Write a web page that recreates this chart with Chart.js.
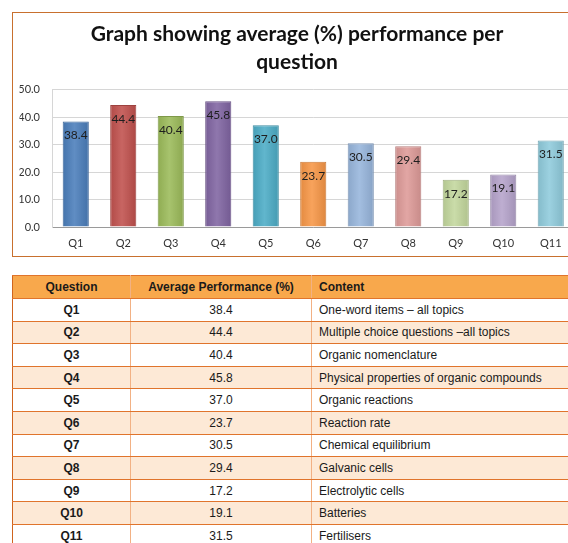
<!DOCTYPE html>
<html><head><meta charset="utf-8">
<script src="https://cdn.jsdelivr.net/npm/chart.js@4.4.1/dist/chart.umd.min.js"></script>
<style>
html,body{margin:0;padding:0;background:#fff;overflow:hidden;width:568px;height:543px;position:relative;}
#frame{position:absolute;left:12px;top:12px;width:590px;height:245px;border:1.5px solid #C8702E;box-sizing:border-box;}
#c{position:absolute;left:13px;top:13px;}
#tbl{position:absolute;left:12px;top:275px;border-collapse:collapse;font-family:"Liberation Sans",Arial,sans-serif;font-size:12px;color:#1a1a1a;table-layout:fixed;width:640px;}
#tbl tr{height:22.6px;}
#tbl thead tr{height:23px;}
#tbl td,#tbl th{padding:0;border-top:1.5px solid #E0742C;border-bottom:1.5px solid #E0742C;border-left:1px solid #F2B184;border-right:1px solid #F2B184;height:18px;white-space:nowrap;overflow:hidden;}
#tbl th{background:#F8A84C;font-weight:bold;}
#tbl tr.alt td{background:#FDE9D6;}
#tbl td.q{font-weight:bold;text-align:center;border-left:1.5px solid #D0641E;}
#tbl th.q{border-left:1.5px solid #D0641E;}
#tbl td.v{text-align:center;}
#tbl td.t,#tbl th.t{text-align:left;padding-left:7px;}
</style></head>
<body>
<div id="frame"></div>
<canvas id="c" width="570" height="242"></canvas>
<table id="tbl"><colgroup><col style="width:118px"><col style="width:181px"><col style="width:341px"></colgroup><thead><tr><th class="q">Question</th><th>Average Performance (%)</th><th class="t">Content</th></tr></thead><tbody id="tb"></tbody></table>
<script>
const questions = ['Q1','Q2','Q3','Q4','Q5','Q6','Q7','Q8','Q9','Q10','Q11'];
const averages = [38.4, 44.4, 40.4, 45.8, 37.0, 23.7, 30.5, 29.4, 17.2, 19.1, 31.5];
const contents = ['One-word items \u2013 all topics','Multiple choice questions \u2013all topics','Organic nomenclature','Physical properties of organic compounds','Organic reactions','Reaction rate','Chemical equilibrium','Galvanic cells','Electrolytic cells','Batteries','Fertilisers'];
const yTickValues = [0, 10, 20, 30, 40, 50];
const barColors = ['#4A7EBB','#C0504D','#9BBB59','#8064A2','#4BACC6','#F79646','#97B5DC','#DE9A98','#C3D79D','#B5A3CB','#8FCBDC'];
const titleLines = ['Graph showing average (%) performance per','question'];

// build table
const tb = document.getElementById('tb');
questions.forEach((q,i)=>{
  const tr=document.createElement('tr'); if(i%2===1) tr.className='alt';
  tr.innerHTML='<td class="q">'+q+'</td><td class="v">'+averages[i].toFixed(1)+'</td><td class="t">'+contents[i]+'</td>';
  tb.appendChild(tr);
});

function shade(hex, amt){
  const n=parseInt(hex.slice(1),16); let r=n>>16,g=(n>>8)&255,b=n&255;
  const f=v=> amt>=0 ? Math.round(v+(255-v)*amt) : Math.round(v*(1+amt));
  return 'rgb('+f(r)+','+f(g)+','+f(b)+')';
}
const BAR_PCT = 0.55;
const barLabels = {
  id:'barLabels',
  afterDatasetsDraw(chart){
    const ctx=chart.ctx; const meta=chart.getDatasetMeta(0);
    ctx.save();
    ctx.font='12px Lato, "DejaVu Sans", sans-serif'; ctx.fillStyle='#1e1e1e';
    ctx.textAlign='center'; ctx.textBaseline='middle';
    meta.data.forEach((bar,i)=>{ ctx.fillText(averages[i].toFixed(1), bar.x, bar.y+14); });
    ctx.restore();
  }
};
new Chart(document.getElementById('c'), {
  type:'bar',
  data:{ labels:questions, datasets:[{
    data:averages,
    barPercentage:BAR_PCT, categoryPercentage:1.0,
    borderWidth:1,
    borderColor:barColors.map(c=>shade(c,-0.18)),
    backgroundColor(c){
      const chart=c.chart, xs=chart.scales.x, base=barColors[c.dataIndex];
      if(!xs) return base;
      const cx=xs.getPixelForValue(c.dataIndex); const w=xs.width/questions.length*BAR_PCT;
      if(!isFinite(cx)||!isFinite(w)||w<=0) return base;
      const g=chart.ctx.createLinearGradient(cx-w/2,0,cx+w/2,0);
      g.addColorStop(0,shade(base,-0.08)); g.addColorStop(0.45,shade(base,0.12)); g.addColorStop(1,shade(base,-0.1));
      return g;
    }
  }]},
  options:{
    responsive:false, animation:false, devicePixelRatio:1,
    layout:{padding:{left:6.5,right:8.5,top:0,bottom:4}},
    plugins:{
      legend:{display:false}, tooltip:{enabled:false},
      title:{display:true, text:titleLines, color:'#111',
        font:{family:'Lato, "DejaVu Sans", sans-serif', size:21, weight:'bold', lineHeight:1.3},
        padding:{top:8,bottom:14}}
    },
    scales:{
      x:{ grid:{display:false, drawTicks:false}, border:{display:true,color:'#9a9a9a',width:1},
          afterFit(s){ s.height=24; },
          ticks:{color:'#333', padding:10, font:{family:'Lato, "DejaVu Sans", sans-serif', size:11}} },
      y:{ min:0, max:50,
          afterBuildTicks(s){ s.ticks = yTickValues.map(v=>({value:v})); },
          afterFit(s){ s.width=32.5; },
          grid:{color:'#D6D6D6', drawTicks:false}, border:{display:true,color:'#D6D6D6'},
          ticks:{color:'#333', padding:12, callback:v=>Number(v).toFixed(1), font:{family:'Lato, "DejaVu Sans", sans-serif', size:11}} }
    }
  },
  plugins:[barLabels]
});
</script>
</body></html>
